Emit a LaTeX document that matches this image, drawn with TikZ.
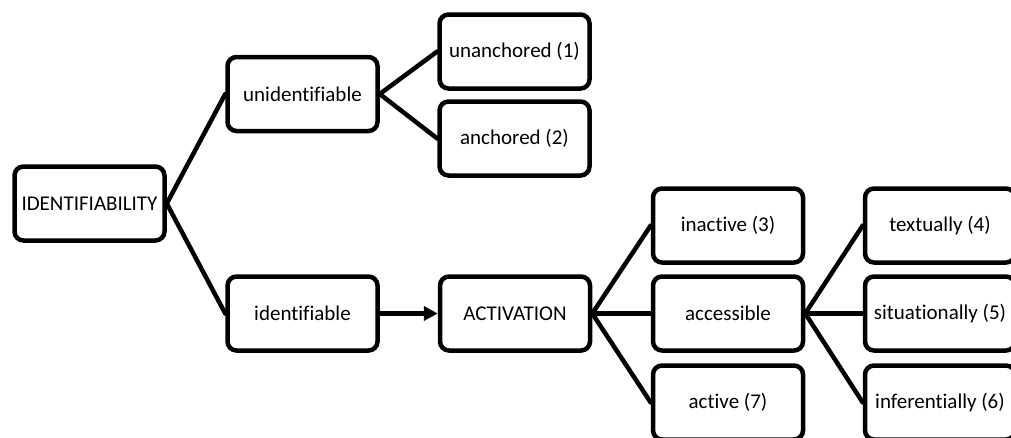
\documentclass[tikz,border=0pt]{standalone}
\usepackage{fontspec}
\setmainfont{Carlito}[Ligatures=NoCommon]
\usetikzlibrary{arrows.meta}
\begin{document}
\begin{tikzpicture}[x=1pt,y=-1pt,
  box/.style={draw=black, line width=4.5pt, rounded corners=9pt, fill=white,
    minimum width=150pt, minimum height=74pt, inner sep=0pt,
    font=\fontsize{21}{25}\selectfont},
  link/.style={line width=4.5pt, line cap=round}]
\useasboundingbox (0,0) rectangle (1011,437);
\clip (0,0) rectangle (1011,437);
\node[box] (ident)   at (89.5,203.5) {IDENTIFIABILITY};
\node[box] (unid)    at (302.5,94)   {unidentifiable};
\node[box] (unanch)  at (514.5,51.5) {unanchored (1)};
\node[box] (anch)    at (514.5,138.5){anchored (2)};
\node[box] (idf)     at (302.5,313.5){identifiable};
\node[box] (act)     at (515,313.5)  {ACTIVATION};
\node[box] (inact)   at (728,225.5)  {inactive (3)};
\node[box] (acc)     at (728,313.5)  {accessible};
\node[box] (active)  at (728,402.5)  {active (7)};
\node[box] (text)    at (940,225.5)  {textually (4)};
\node[box] (sit)     at (940,313.5)  {situationally (5)};
\node[box] (inf)     at (940,402.5)  {inferentially (6)};
\draw[link] (ident.east) -- (unid.west);
\draw[link] (ident.east) -- (idf.west);
\draw[link] (unid.east) -- (unanch.west);
\draw[link] (unid.east) -- (anch.west);
\draw[line width=4.5pt, -{Triangle[length=14pt,width=14pt]}] (idf.east) -- (act.west);
\draw[link] (act.east) -- (inact.west);
\draw[link] (act.east) -- (acc.west);
\draw[link] (act.east) -- (active.west);
\draw[link] (acc.east) -- (text.west);
\draw[link] (acc.east) -- (sit.west);
\draw[link] (acc.east) -- (inf.west);
\end{tikzpicture}
\end{document}
